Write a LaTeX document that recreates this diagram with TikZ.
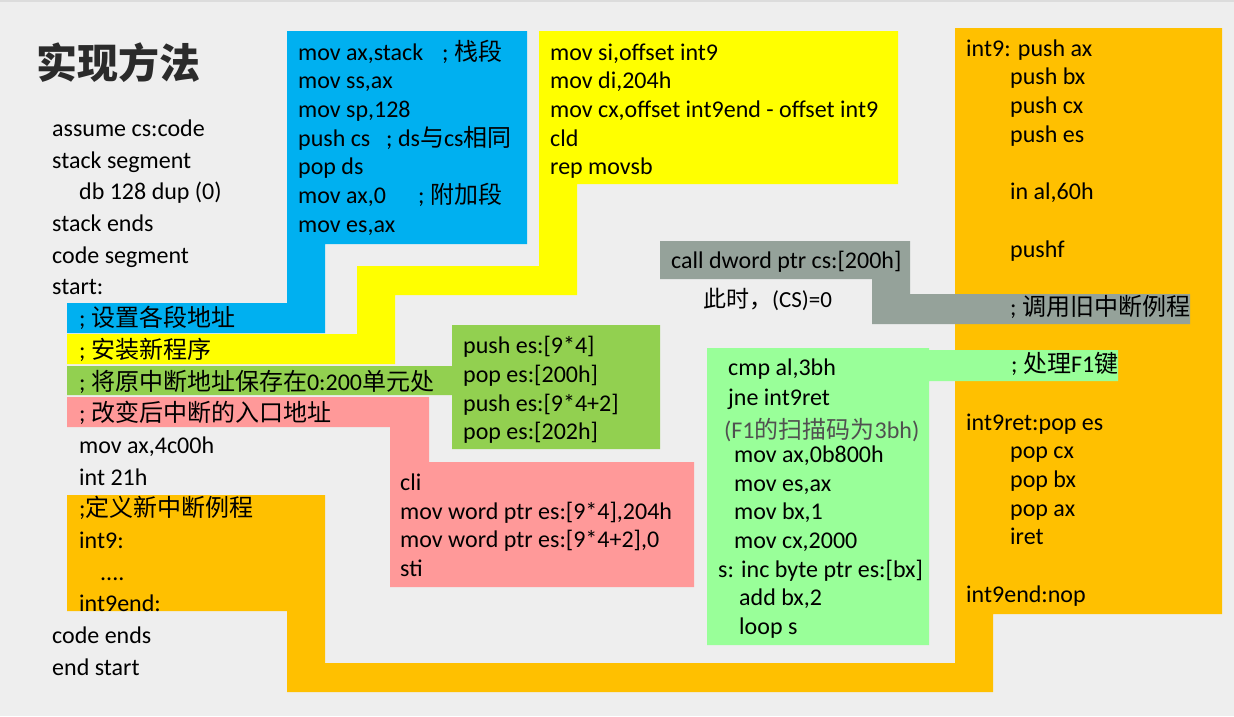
\documentclass[tikz,border=0pt]{standalone}
\usepackage{fontspec}
\setmainfont{Carlito}
\newfontfamily\cjk{Noto Sans CJK SC}
\newcommand{\zh}[1]{{\cjk #1}}
\definecolor{bgc}{HTML}{EEEEEE}
\definecolor{topline}{HTML}{DCDCDC}
\definecolor{cblue}{HTML}{00B0F0}
\definecolor{cyellow}{HTML}{FFFF00}
\definecolor{cgreen}{HTML}{92D050}
\definecolor{cpink}{HTML}{FF9999}
\definecolor{corange}{HTML}{FFC000}
\definecolor{cgray}{HTML}{95A29A}
\definecolor{clgreen}{HTML}{99FF99}
\definecolor{ctitle}{HTML}{2B2B2B}
\definecolor{cnote}{HTML}{505050}
\tikzset{
  code/.style={anchor=base west, inner sep=0pt, font=\fontsize{24}{28}\selectfont, text=black},
  note/.style={anchor=base west, inner sep=0pt, font=\fontsize{23}{26}\selectfont},
}
\begin{document}
\begin{tikzpicture}[x=1pt,y=-1pt]
\useasboundingbox (0,0) rectangle (1234,716);
\fill[bgc] (0,0) rectangle (1234,716);
\fill[topline] (0,0) rectangle (1234,2);
% orange shape
\fill[corange] (67,495) -- (325,495) -- (325,663) -- (955,663) -- (955,28) -- (1222,28) -- (1222,614) -- (993,614) -- (993,692) -- (287,692) -- (287,611) -- (67,611) -- cycle;
% blue
\fill[cblue] (287,31) -- (527,31) -- (527,244) -- (325,244) -- (325,333) -- (67,333) -- (67,303) -- (287,303) -- cycle;
% yellow
\fill[cyellow] (539,31) -- (898,31) -- (898,184) -- (577,184) -- (577,295) -- (395,295) -- (395,364) -- (67,364) -- (67,334) -- (357,334) -- (357,266) -- (539,266) -- cycle;
% green
\fill[cgreen] (452,325) -- (660,325) -- (660,449) -- (452,449) -- (452,395) -- (67,395) -- (67,366) -- (452,366) -- cycle;
% pink
\fill[cpink] (67,397) -- (429,397) -- (429,462) -- (694,462) -- (694,587) -- (390,587) -- (390,427) -- (67,427) -- cycle;
% gray
\fill[cgray] (660,241) -- (910,241) -- (910,294) -- (1190,294) -- (1190,324) -- (872,324) -- (872,279) -- (660,279) -- cycle;
% light green
\fill[clgreen] (707,348) -- (929,348) -- (929,350) -- (1118,350) -- (1118,381) -- (929,381) -- (929,645) -- (707,645) -- cycle;

% title
\node[anchor=base west, inner sep=0pt, text=ctitle, font=\fontsize{41}{44}\selectfont] (title) at (36,78) {\cjk\bfseries 实现方法};

% left column
\node[code] (l0) at (52,136) {assume cs:code};
\node[code] (l1) at (52,168) {stack segment};
\node[code] (l2) at (79,199.5) {db 128 dup (0)};
\node[code] (l3) at (52,231) {stack ends};
\node[code] (l4) at (52,263) {code segment};
\node[code] (l5) at (52,294.5) {start:};
\node[code] (l6) at (79,326.5) {; \zh{设置各段地址}};
\node[code] (l7) at (79,358) {; \zh{安装新程序}};
\node[code] (l8) at (79,390) {; \zh{将原中断地址保存在}0:200\zh{单元处}};
\node[code] (l9) at (79,421.5) {; \zh{改变后中断的入口地址}};
\node[code] (l10) at (79,453) {mov ax,4c00h};
\node[code] (l11) at (79,485) {int 21h};
\node[code] (l12) at (79,516.5) {;\zh{定义新中断例程}};
\node[code] (l13) at (79,548) {int9:};
\node[code] (l14) at (100,580) {....};
\node[code] (l15) at (79,611.5) {int9end:};
\node[code] (l16) at (52,643) {code ends};
\node[code] (l17) at (52,675) {end start};

% blue box
\node[code] (b0) at (298,60) {mov ax,stack};
\node[code] (b0c) at (442,60) {; \zh{栈段}};
\node[code] (b1) at (298,88.7) {mov ss,ax};
\node[code] (b2) at (298,117.4) {mov sp,128};
\node[code] (b3) at (298,146.1) {push cs};
\node[code] (b3c) at (386,146.1) {; ds\zh{与}cs\zh{相同}};
\node[code] (b4) at (298,174.8) {pop ds};
\node[code] (b5) at (298,203.5) {mov ax,0};
\node[code] (b5c) at (418,203.5) {; \zh{附加段}};
\node[code] (b6) at (298,232.2) {mov es,ax};

% yellow box
\node[code] (y0) at (550,60) {mov si,offset int9};
\node[code] (y1) at (550,88.7) {mov di,204h};
\node[code] (y2) at (550,117.4) {mov cx,offset int9end - offset int9};
\node[code] (y3) at (550,146.1) {cld};
\node[code] (y4) at (550,174.8) {rep movsb};

% green box
\node[code] (g0) at (463,353) {push es:[9*4]};
\node[code] (g1) at (463,382) {pop es:[200h]};
\node[code] (g2) at (463,411) {push es:[9*4+2]};
\node[code] (g3) at (463,439.5) {pop es:[202h]};

% pink box
\node[code] (p0) at (400,490) {cli};
\node[code] (p1) at (400,519) {mov word ptr es:[9*4],204h};
\node[code] (p2) at (400,547.5) {mov word ptr es:[9*4+2],0};
\node[code] (p3) at (400,576) {sti};

% gray
\node[code] (c0) at (671,268) {call dword ptr cs:[200h]};
\node[note] (c1) at (703,307.5) {\zh{此时，}(CS)=0};

% light green
\node[code] (e0) at (728,375.7) {cmp al,3bh};
\node[code] (e1) at (728,405) {jne int9ret};
\node[note, text=cnote, font=\fontsize{24}{26}\selectfont] (e2) at (724,438) {(F1\zh{的扫描码为}3bh)};
\node[code] (e3) at (734,462) {mov ax,0b800h};
\node[code] (e4) at (734,491) {mov es,ax};
\node[code] (e5) at (734,519.5) {mov bx,1};
\node[code] (e6) at (734,548) {mov cx,2000};
\node[code] (e7) at (718,577) {s: inc byte ptr es:[bx]};
\node[code] (e8) at (739,605.7) {add bx,2};
\node[code] (e9) at (739,634.3) {loop s};

% orange right
\node[code] (o0) at (966,56) {int9: push ax};
\node[code] (o1) at (1010,84.75) {push bx};
\node[code] (o2) at (1010,113.5) {push cx};
\node[code] (o3) at (1010,142.25) {push es};
\node[code] (o5) at (1010,199.75) {in al,60h};
\node[code] (o7) at (1010,257.25) {pushf};
\node[code] (o9) at (1010,315) {; \zh{调用旧中断例程}};
\node[code] (o11) at (1011,372.5) {; \zh{处理}F1\zh{键}};
\node[code] (o13) at (966,430) {int9ret:pop es};
\node[code] (o14) at (1010,458.5) {pop cx};
\node[code] (o15) at (1010,487.25) {pop bx};
\node[code] (o16) at (1010,516) {pop ax};
\node[code] (o17) at (1010,544.75) {iret};
\node[code] (o19) at (966,602.5) {int9end:nop};
\end{tikzpicture}
\end{document}
